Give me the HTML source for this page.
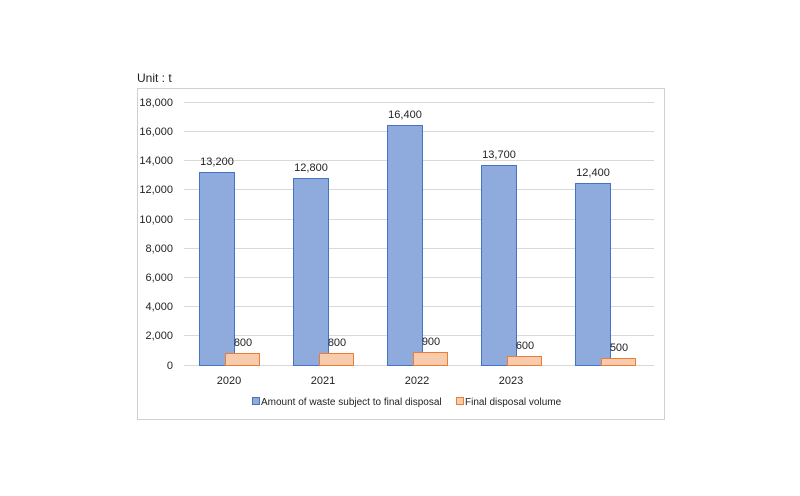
<!DOCTYPE html><html><head><style>body{margin:0;background:#fff}svg text{font-family:"Liberation Sans",sans-serif;font-size:11px;fill:#222}</style></head><body>
<svg width="800" height="491" xmlns="http://www.w3.org/2000/svg">
<text x="137" y="82" style="font-size:12px">Unit : t</text>
<rect x="137.5" y="88.5" width="527" height="331" fill="#fff" stroke="#d0d0d0"/>
<g stroke="#d9d9d9" stroke-width="1">
<line x1="184" x2="654" y1="102.5" y2="102.5"/><line x1="184" x2="654" y1="131.5" y2="131.5"/><line x1="184" x2="654" y1="160.5" y2="160.5"/><line x1="184" x2="654" y1="189.5" y2="189.5"/><line x1="184" x2="654" y1="219.5" y2="219.5"/><line x1="184" x2="654" y1="248.5" y2="248.5"/><line x1="184" x2="654" y1="277.5" y2="277.5"/><line x1="184" x2="654" y1="306.5" y2="306.5"/><line x1="184" x2="654" y1="335.5" y2="335.5"/><line x1="184" x2="654" y1="365.5" y2="365.5"/>
</g>
<g text-anchor="end">
<text x="173" y="106">18,000</text><text x="173" y="135">16,000</text><text x="173" y="164">14,000</text><text x="173" y="193">12,000</text><text x="173" y="223">10,000</text><text x="173" y="252">8,000</text><text x="173" y="281">6,000</text><text x="173" y="310">4,000</text><text x="173" y="339">2,000</text><text x="173" y="369">0</text>
</g>
<g fill="#8faadc" stroke="#4472c4" stroke-width="1">
<rect x="199.5" y="172.5" width="35" height="193"/>
<rect x="293.5" y="178.5" width="35" height="187"/>
<rect x="387.5" y="125.5" width="35" height="240"/>
<rect x="481.5" y="165.5" width="35" height="200"/>
<rect x="575.5" y="183.5" width="35" height="182"/>
</g>
<g fill="#f8cbad" stroke="#ed7d31" stroke-width="1">
<rect x="225.5" y="353.5" width="34" height="12"/>
<rect x="319.5" y="353.5" width="34" height="12"/>
<rect x="413.5" y="352.5" width="34" height="13"/>
<rect x="507.5" y="356.5" width="34" height="9"/>
<rect x="601.5" y="358.5" width="34" height="7"/>
</g>
<g text-anchor="middle">
<text x="217" y="165">13,200</text><text x="311" y="171">12,800</text><text x="405" y="118">16,400</text><text x="499" y="158">13,700</text><text x="593" y="176">12,400</text>
<text x="243" y="346">800</text><text x="337" y="346">800</text><text x="431" y="345">900</text><text x="525" y="349">600</text><text x="619" y="351">500</text>
<text x="229" y="384">2020</text><text x="323" y="384">2021</text><text x="417" y="384">2022</text><text x="511" y="384">2023</text>
</g>
<rect x="252.5" y="397.5" width="7" height="7" fill="#8faadc" stroke="#4472c4"/>
<text x="261" y="405" style="font-size:10px">Amount of waste subject to final disposal</text>
<rect x="456.5" y="397.5" width="7" height="7" fill="#f8cbad" stroke="#ed7d31"/>
<text x="465" y="405" style="font-size:10px">Final disposal volume</text>
</svg>
</body></html>
